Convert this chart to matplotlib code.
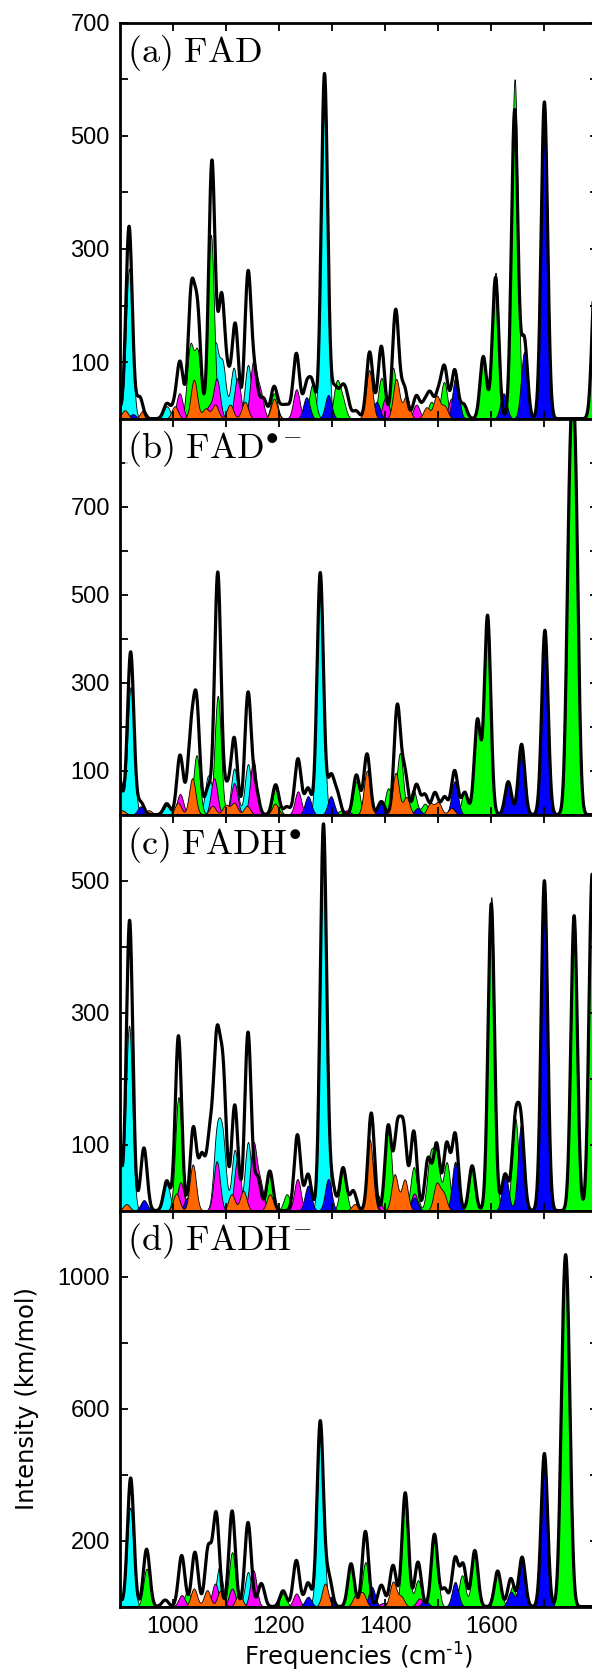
import numpy as np
import matplotlib
matplotlib.use('Agg')
import matplotlib.pyplot as plt

plt.rcParams['font.family'] = ['Liberation Sans', 'DejaVu Sans']
plt.rcParams['mathtext.fontset'] = 'cm'

# --- peak lists (frequency cm-1, height km/mol) ---
# (a) FAD
total_a = [(893, 45), (918, 340), (938, 38), (989, 26), (1003, 18), (1014, 98), (1035, 215),
           (1047, 180), (1074, 455), (1092, 210), (1104, 60), (1118, 165), (1142, 255), (1155, 70),
           (1171, 35), (1191, 56), (1205, 18), (1216, 20), (1233, 115), (1252, 55), (1263, 58),
           (1286, 610), (1305, 52), (1318, 42), (1327, 38), (1345, 14), (1371, 118), (1393, 128),
           (1420, 192), (1436, 55), (1459, 40), (1474, 25), (1485, 42), (1500, 42), (1512, 88),
           (1531, 86), (1548, 25), (1585, 110), (1608, 250), (1644, 545), (1662, 140), (1700, 560),
           (1796, 270)]
cyan_a = [(893, 48), (918, 265), (989, 22), (1080, 128), (1094, 95), (1115, 90), (1142, 95), (1285, 545)]
green_a = [(1033, 125), (1047, 115), (1072, 325), (1191, 45), (1263, 60), (1309, 62), (1320, 30),
           (1393, 72), (1415, 90), (1487, 30), (1511, 65), (1545, 30), (1585, 110), (1608, 258),
           (1644, 600), (1796, 270)]
magenta_a = [(1013, 45), (1068, 20), (1083, 70), (1122, 72), (1152, 100), (1165, 45), (1233, 52),
             (1401, 38), (1459, 25), (1525, 36)]
blue_a = [(925, 8), (1252, 38), (1293, 42), (1384, 30), (1533, 75), (1623, 45), (1662, 118), (1700, 560)]
orange_a = [(910, 15), (945, 15), (1004, 22), (1040, 69), (1062, 18), (1080, 25), (1108, 25),
            (1136, 30), (1191, 35), (1370, 86), (1421, 70), (1440, 40), (1478, 20), (1497, 40), (1512, 22)]

# (b) FAD radical anion
total_b = [(898, 92), (921, 370), (940, 28), (989, 25), (1014, 135), (1034, 160), (1045, 245),
           (1067, 60), (1085, 550), (1102, 55), (1116, 172), (1142, 275), (1156, 60), (1194, 68),
           (1215, 18), (1236, 127), (1255, 60), (1278, 550), (1298, 85), (1310, 45), (1346, 90),
           (1366, 138), (1393, 30), (1423, 245), (1437, 95), (1459, 68), (1475, 45), (1494, 50),
           (1512, 40), (1531, 100), (1550, 50), (1574, 215), (1593, 452), (1632, 75), (1657, 160),
           (1701, 419), (1748, 650), (1758, 700), (1815, 100)]
cyan_b = [(900, 80), (921, 290), (989, 20), (1067, 88), (1085, 120), (1116, 105), (1142, 115), (1278, 550)]
green_b = [(1045, 135), (1085, 270), (1194, 62), (1318, 10), (1346, 76), (1406, 60), (1428, 140),
           (1453, 57), (1475, 25), (1550, 55), (1574, 215), (1593, 455), (1748, 650), (1758, 700)]
magenta_b = [(1014, 47), (1078, 83), (1116, 72), (1152, 125), (1236, 53), (1297, 8), (1328, 10), (1390, 30)]
blue_b = [(940, 19), (1040, 27), (1255, 42), (1298, 42), (1366, 83), (1393, 31), (1425, 15),
          (1461, 15), (1531, 76), (1632, 72), (1657, 163), (1701, 419)]
orange_b = [(905, 10), (955, 10), (1010, 27), (1037, 83), (1075, 20), (1100, 22), (1116, 27),
            (1140, 20), (1193, 25), (1366, 100), (1420, 95), (1440, 40), (1485, 25), (1500, 28), (1525, 15)]

# (c) FADH radical
total_c = [(894, 210), (919, 440), (946, 95), (989, 45), (1011, 265), (1039, 125), (1055, 80),
           (1070, 105), (1083, 240), (1095, 200), (1117, 160), (1142, 270), (1160, 50), (1183, 60),
           (1235, 115), (1255, 55), (1284, 585), (1300, 40), (1321, 65), (1340, 30), (1374, 148),
           (1406, 128), (1423, 118), (1435, 118), (1454, 120), (1481, 78), (1497, 100), (1516, 100),
           (1532, 115), (1564, 68), (1600, 465), (1626, 55), (1645, 125), (1656, 125), (1700, 500),
           (1756, 447), (1790, 510)]
cyan_c = [(897, 150), (918, 280), (989, 40), (1083, 110), (1094, 105), (1117, 92), (1142, 104), (1284, 560)]
green_c = [(946, 15), (1011, 172), (1183, 58), (1215, 25), (1321, 62), (1406, 132), (1454, 66),
           (1485, 78), (1497, 80), (1516, 73), (1564, 65), (1600, 475), (1645, 140), (1756, 447), (1790, 510)]
magenta_c = [(1015, 43), (1083, 75), (1122, 79), (1152, 100), (1165, 40), (1235, 48), (1385, 25), (1455, 26)]
blue_c = [(946, 16), (1028, 20), (1255, 38), (1293, 48), (1374, 80), (1455, 20), (1532, 74),
          (1626, 56), (1656, 130), (1700, 500)]
orange_c = [(913, 10), (1007, 26), (1038, 70), (1111, 25), (1133, 30), (1183, 25), (1343, 10),
            (1371, 108), (1418, 55), (1437, 47), (1497, 40), (1510, 25)]

# (d) FADH anion
total_d = [(895, 40), (921, 390), (951, 174), (986, 20), (1017, 155), (1042, 165), (1067, 175),
           (1082, 280), (1112, 290), (1142, 255), (1167, 70), (1208, 48), (1233, 140), (1255, 72),
           (1278, 561), (1294, 90), (1336, 130), (1363, 228), (1393, 65), (1415, 125), (1438, 345),
           (1462, 135), (1493, 219), (1512, 55), (1532, 145), (1547, 125), (1569, 170), (1612, 108),
           (1637, 85), (1658, 150), (1700, 464), (1736, 666), (1744, 666)]
cyan_d = [(898, 40), (920, 300), (1088, 120), (1112, 90), (1142, 105), (1278, 540)]
green_d = [(951, 115), (1028, 45), (1112, 165), (1208, 40), (1336, 120), (1363, 135), (1438, 340),
           (1462, 80), (1493, 219), (1545, 95), (1569, 160), (1612, 108), (1640, 60), (1736, 666), (1744, 666)]
magenta_d = [(1017, 35), (1080, 70), (1112, 55), (1152, 110), (1233, 40), (1395, 10), (1410, 15), (1465, 25)]
blue_d = [(1040, 15), (1255, 30), (1298, 30), (1375, 60), (1420, 25), (1475, 20), (1532, 75),
          (1637, 45), (1658, 140), (1700, 464)]
orange_d = [(1040, 55), (1065, 50), (1090, 48), (1125, 40), (1287, 70), (1345, 35), (1358, 40),
            (1415, 75), (1430, 30)]

titles = [r'$\mathrm{(a)\ FAD}$', r'$\mathrm{(b)\ FAD}^{\bullet -}$',
          r'$\mathrm{(c)\ FADH}^{\bullet}$', r'$\mathrm{(d)\ FADH}^{-}$']
ylims = [700, 900, 600, 1200]
ytick_top = [700, 800, 600, 1200]
ytick_step = [100, 100, 100, 200]

panels = [
    (total_a, [cyan_a, green_a, magenta_a, blue_a, orange_a]),
    (total_b, [cyan_b, green_b, magenta_b, blue_b, orange_b]),
    (total_c, [cyan_c, green_c, magenta_c, blue_c, orange_c]),
    (total_d, [cyan_d, green_d, magenta_d, blue_d, orange_d]),
]
colors = ['#00FFFF', '#00FF00', '#FF00FF', '#0000FF', '#FF6600']

sigma = 6.0
x = np.linspace(900, 1800, 3000)


def spectrum(peaks):
    y = np.zeros_like(x)
    for f, h in peaks:
        y += h * np.exp(-(x - f) ** 2 / (2 * sigma ** 2))
    return y


fig = plt.figure(figsize=(5.92, 16.8), dpi=100)
left, width = 119.5 / 592, 478 / 592
top, bottom = 1 - 22.7 / 1680, 1 - 1606.6 / 1680
h = (top - bottom) / 4

for i, (total, comps) in enumerate(panels):
    ax = fig.add_axes([left, top - (i + 1) * h, width, h])
    for peaks, c in zip(comps, colors):
        ax.fill_between(x, 0, spectrum(peaks), facecolor=c, edgecolor='black', linewidth=0.6)
    ax.plot(x, spectrum(total), color='black', linewidth=2.3)

    ax.set_xlim(900, 1800)
    ax.set_ylim(0, ylims[i])
    step = ytick_step[i]
    yt = np.arange(step, ytick_top[i] + 1, step)
    ax.set_yticks(yt)
    ax.set_yticklabels([str(int(v)) if k % 2 == 0 else '' for k, v in enumerate(yt)])
    ax.set_xticks(np.arange(1000, 1800, 100))
    if i == 3:
        ax.set_xticklabels(['1000', '', '1200', '', '1400', '', '1600', ''])
        ax.set_xlabel('Frequencies (cm$^{\\text{-}1}$)', fontsize=17.5, labelpad=2, family='DejaVu Sans',
                      math_fontfamily='dejavusans')
    else:
        ax.set_xticklabels([])
    ax.tick_params(direction='in', length=6, width=1.3, top=True, right=True, labelsize=17, pad=7)
    for s in ax.spines.values():
        s.set_linewidth(2)
    ax.text(0.015, 0.975, titles[i], transform=ax.transAxes, va='top', ha='left', fontsize=26,
            bbox=dict(facecolor='white', alpha=0.8, edgecolor='none', pad=1), zorder=5)

fig.text(27.5 / 592, 1 - 1398 / 1680, 'Intensity (km/mol)', rotation=90, va='center', ha='center',
         fontsize=17.5, family='DejaVu Sans')

fig.savefig('out.png', dpi=100)
